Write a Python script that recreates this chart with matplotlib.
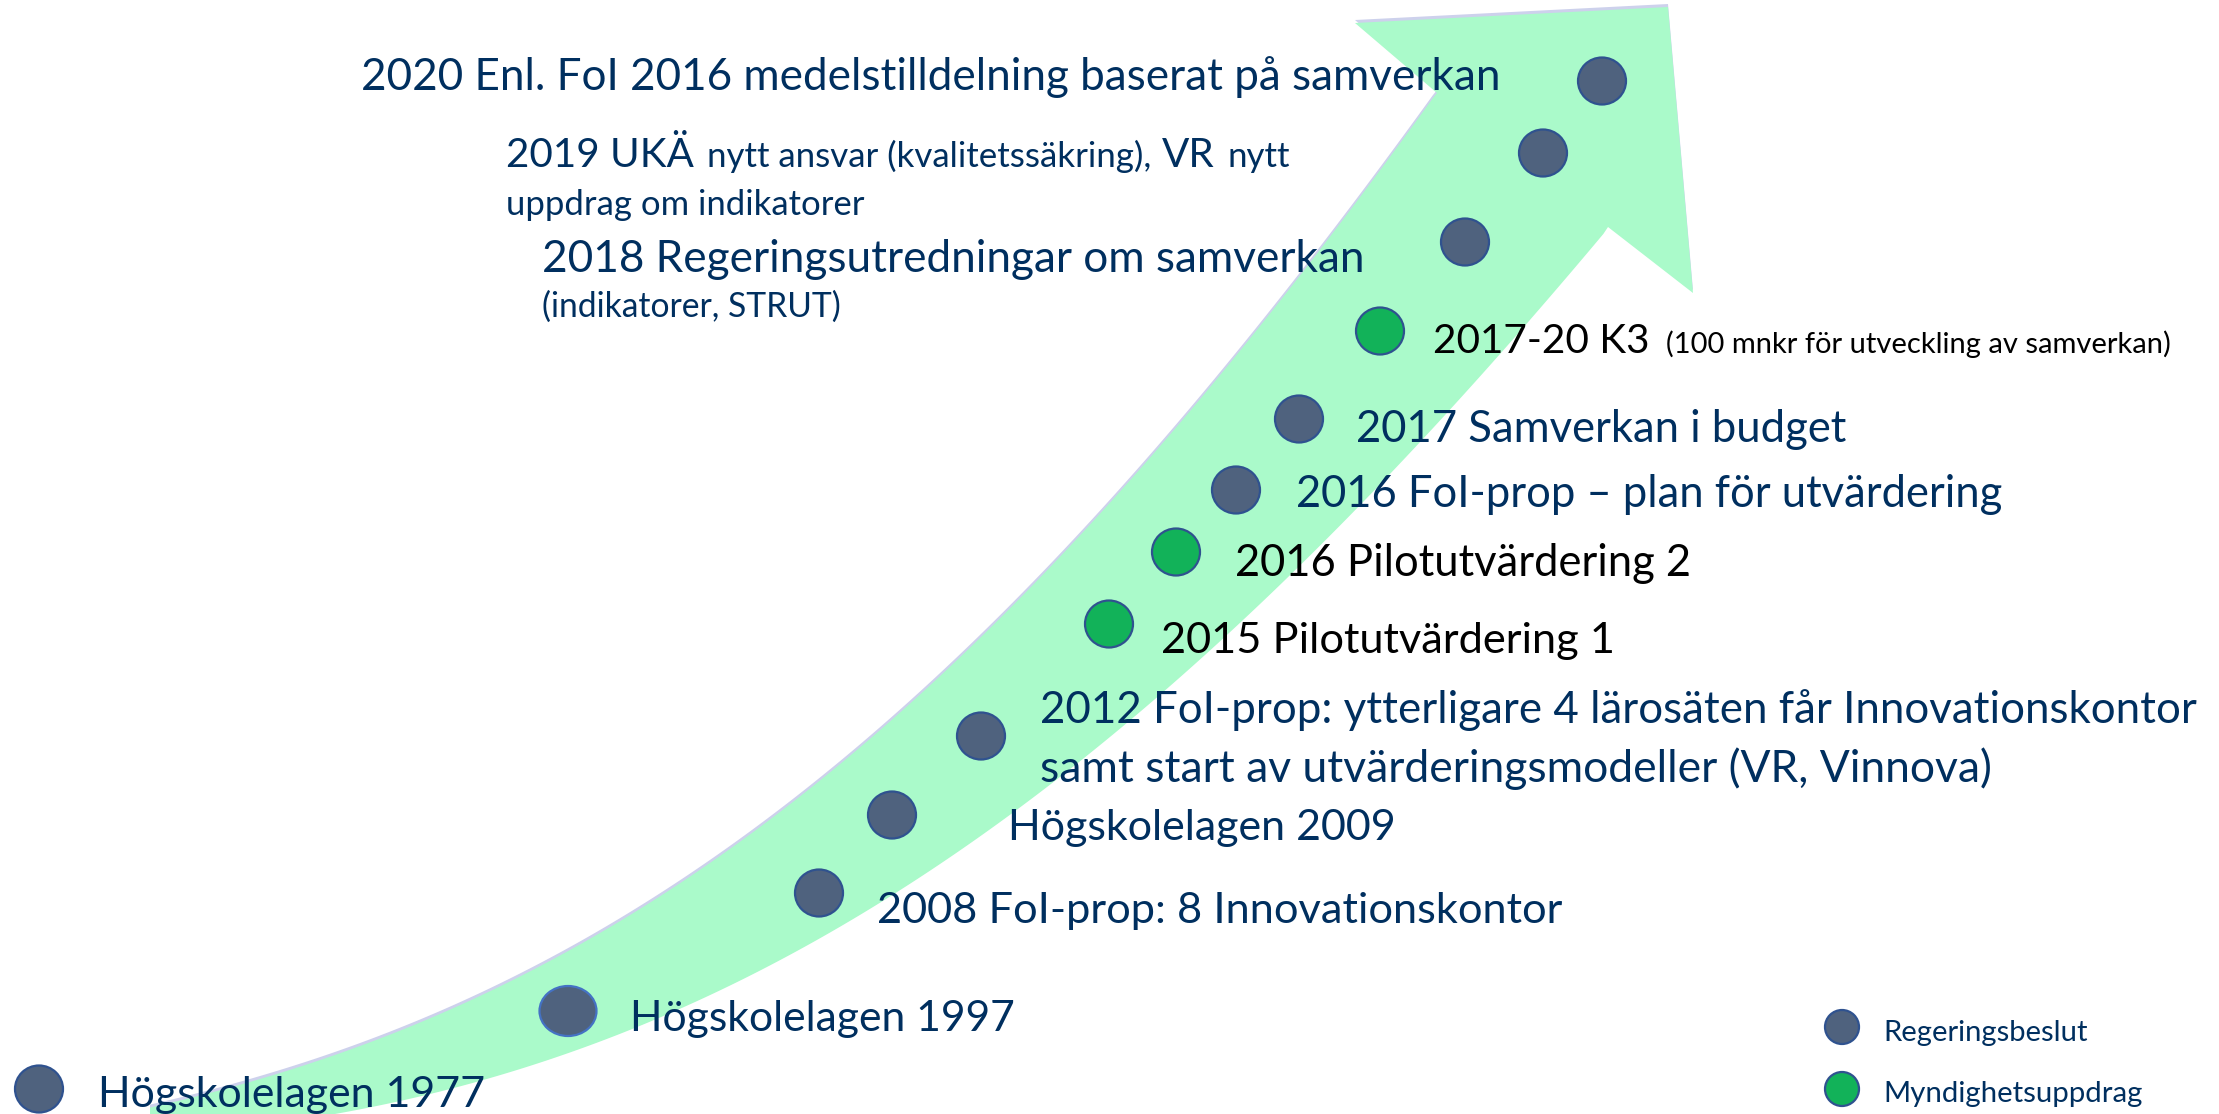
import matplotlib
matplotlib.use("Agg")
import matplotlib.pyplot as plt
from matplotlib.patches import Ellipse, Polygon
import numpy as np

# ---------------- data ----------------
event_text = [
    [[("Högskolelagen 1977", "L")]],
    [[("Högskolelagen 1997", "L")]],
    [[("2008 FoI-prop: 8 Innovationskontor", "L")]],
    [[("Högskolelagen 2009", "L")]],
    [[("2012 FoI-prop: ytterligare 4 lärosäten får Innovationskontor", "L")],
     [("samt start av utvärderingsmodeller (VR, Vinnova)", "L")]],
    [[("2015 Pilotutvärdering 1", "L")]],
    [[("2016 Pilotutvärdering 2", "L")]],
    [[("2016 FoI-prop – plan för utvärdering", "L")]],
    [[("2017 Samverkan i budget", "L")]],
    [[("2017-20 K3", "L"), ("(100 mnkr för utveckling av samverkan)", "S")]],
    [[("2018 Regeringsutredningar om samverkan", "L")],
     [("(indikatorer, STRUT)", "S")]],
    [[("2019 UKÄ", "L"), ("nytt ansvar (kvalitetssäkring),", "S"), ("VR", "L"), ("nytt", "S")],
     [("uppdrag om indikatorer", "S")]],
    [[("2020 Enl. FoI 2016 medelstilldelning baserat på samverkan", "L")]],
]
event_kind = ["Regeringsbeslut", "Regeringsbeslut", "Regeringsbeslut", "Regeringsbeslut",
              "Regeringsbeslut", "Myndighetsuppdrag", "Myndighetsuppdrag", "Regeringsbeslut",
              "Regeringsbeslut", "Myndighetsuppdrag", "Regeringsbeslut", "Regeringsbeslut",
              "Regeringsbeslut"]
legend_labels = ["Regeringsbeslut", "Myndighetsuppdrag"]

# ---------------- layout / style ----------------
W, H = 2219, 1114
FONT = ["Lato", "DejaVu Sans"]
NAVY = "#002F5F"
BAND = "#AAFACA"
SHADOW = "#CDD1EC"
KIND_FILL = {"Regeringsbeslut": "#4F627E", "Myndighetsuppdrag": "#12B259"}
DOT_EDGE = "#2F528F"

marker_pos = [(39, 1089), (568, 1011), (819, 893), (892, 815), (981, 736), (1109, 624),
              (1176, 552), (1236, 490), (1299, 419), (1380, 331), (1465, 242), (1543, 153),
              (1602, 81)]
marker_wh = [(48, 47), (57, 50)] + [(48, 47)] * 11
marker_edge = [DOT_EDGE, "#4472C4"] + [DOT_EDGE] * 11
text_black = {5, 6, 9}

# per event -> per line -> per run: (x, baseline, target width or None)
text_layout = [
    [[(98, 1107, 387)]],
    [[(630, 1031, 385)]],
    [[(877, 923, 686)]],
    [[(1008, 840, 389)]],
    [[(1040, 723, 1154)], [(1040, 782, 951)]],
    [[(1161, 653, 455)]],
    [[(1235, 576, 456)]],
    [[(1296, 507, 706)]],
    [[(1356, 442, 491)]],
    [[(1433, 353, 217), (1666, 353, 504)]],
    [[(542, 272, 820)], [(542, 317, 299)]],
    [[(506, 167, 188), (707, 167, 443), (1162, 167, None), (1227, 167, None)],
     [(506, 215, 357)]],
    [[(361, 90, 1136)]],
]
legend_pos = [(1842, 1027), (1842, 1089)]
legend_text = [(1883, 1041, 204), (1883, 1102, 259)]

# arrow outline (pixel space): traced edge points, smoothed by a least-squares curve
upper_edge = [(160, 1106), (300, 1064), (400, 1031), (520, 981), (560, 957),
              (660, 893), (760, 823), (860, 747), (960, 660), (1060, 560), (1180, 420),
              (1317, 253), (1437, 93)]
head = [(1355, 23), (1668, 7), (1693, 293), (1608, 227)]
lower_edge = [(250, 1128), (400, 1097), (520, 1071), (600, 1044), (740, 980), (860, 913),
              (960, 850), (1060, 780), (1307, 553), (1400, 467), (1520, 333), (1608, 227)]
band_foot = [(240, 1150), (150, 1150)]


def smooth_edge(pts, x_start, deg=4, n=300):
    pts = np.asarray(pts, float)
    c = np.polyfit(pts[:, 0], pts[:, 1], deg)
    xs = np.linspace(x_start, pts[-1, 0], n)
    ys = np.polyval(c, xs)
    ys[-1] = pts[-1, 1]
    return np.column_stack([xs, ys])


fig = plt.figure(figsize=(W / 100, H / 100), dpi=100)
ax = fig.add_axes([0, 0, 1, 1])
ax.set_xlim(0, W)
ax.set_ylim(H, 0)
ax.axis("off")

up = smooth_edge(upper_edge, 150)
lo = smooth_edge(lower_edge, 240)
outline = np.vstack([up, np.asarray(head, float), lo[::-1][1:], np.asarray(band_foot, float)])
ax.add_patch(Polygon(outline + np.array([0, -3]), closed=True, facecolor=SHADOW,
                     edgecolor="none", zorder=1))
ax.add_patch(Polygon(outline, closed=True, facecolor=BAND, edgecolor="none", zorder=2))

# markers
for (cx, cy), (w, h), ec, kind in zip(marker_pos, marker_wh, marker_edge, event_kind):
    ax.add_patch(Ellipse((cx, cy), w, h, facecolor=KIND_FILL[kind], edgecolor=ec,
                         linewidth=1.6, zorder=3))

renderer = fig.canvas.get_renderer()


def width_of(s, size):
    t = ax.text(0, 0, s, fontsize=size, family=FONT)
    w = t.get_window_extent(renderer).width
    t.remove()
    return w


def fit(s, target):
    return 40.0 * target / width_of(s, 40.0)


# labels
for i, (lines, lay) in enumerate(zip(event_text, text_layout)):
    color = "black" if i in text_black else NAVY
    for runs, rl in zip(lines, lay):
        sizes = {}
        for (s, tag), (x, y, tw) in zip(runs, rl):
            if tw is not None and tag not in sizes:
                sizes[tag] = fit(s, tw)
        for (s, tag), (x, y, tw) in zip(runs, rl):
            size = fit(s, tw) if tw is not None else sizes[tag]
            ax.text(x, y, s, fontsize=size, family=FONT, color=color, va="baseline",
                    ha="left", zorder=4)

# legend
for (cx, cy), (x, y, tw), lab in zip(legend_pos, legend_text, legend_labels):
    ax.add_patch(Ellipse((cx, cy), 34, 34, facecolor=KIND_FILL[lab], edgecolor=DOT_EDGE,
                         linewidth=1.6, zorder=3))
    ax.text(x, y, lab, fontsize=fit(lab, tw), family=FONT, color=NAVY, va="baseline",
            ha="left", zorder=4)

fig.savefig("out.png", dpi=100)
